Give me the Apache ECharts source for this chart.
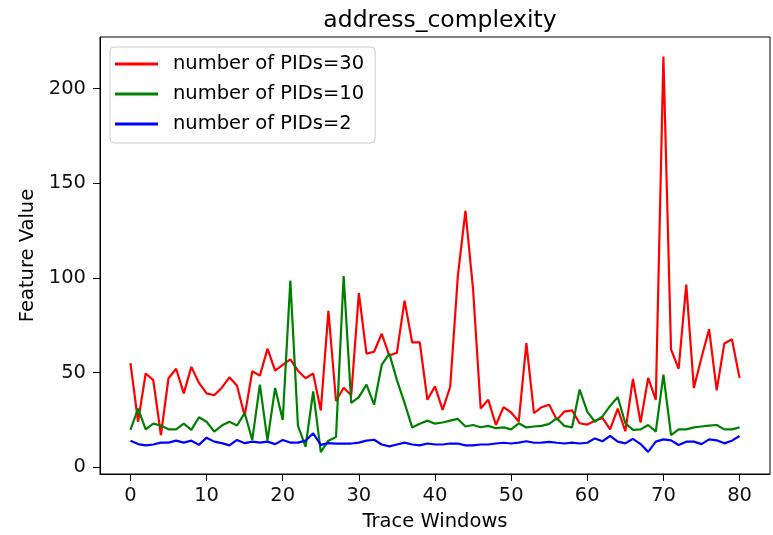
<!DOCTYPE html>
<html>
<head>
<meta charset="utf-8">
<script src="https://cdn.jsdelivr.net/npm/echarts@6/dist/echarts.min.js"></script>
<style>
html,body{margin:0;padding:0;background:#fff;}
#chart{width:773px;height:535px;}
</style>
</head>
<body>
<div id="chart"></div>
<script>
const titleText = "address_complexity";
const xName = "Trace Windows";
const yName = "Feature Value";
const xTicks = [0, 10, 20, 30, 40, 50, 60, 70, 80];
const yTicks = [0, 50, 100, 150, 200];
const seriesNames = ["number of PIDs=30", "number of PIDs=10", "number of PIDs=2"];

const pids30 = [55, 24, 49.5, 46, 17, 47, 52, 39, 53, 44.5,
  39, 38, 42, 47.5, 43, 27, 50.7, 48.4, 62.6, 51,
  54, 57, 51, 47, 49.5, 30, 82.6, 35, 42, 38,
  92, 60, 61, 70.5, 59, 60.5, 88, 66, 66, 35.6,
  42.7, 30.3, 42.5, 101, 135.5, 94, 31, 35.6, 22.3, 31.7,
  28.9, 24.1, 65.5, 28.5, 31.7, 33, 25, 29.4, 30, 23.2,
  22.5, 24.5, 26, 20, 31, 19, 46.6, 23.6, 47.2, 35.6,
  217, 62.2, 52, 96.5, 41.8, 57.8, 72.9, 40.6, 65.4, 67.6,
  47.2];

const pids10 = [19.7, 31, 20, 23, 22, 20, 20, 23, 19.7, 26.4,
  24, 18.8, 22, 24, 22, 28.6, 14.4, 43.6, 14, 41.9,
  25, 98.6, 22, 10.8, 40, 8, 14, 16, 101, 34,
  37, 43.6, 33, 54, 60, 46, 34, 21, 23, 24.6,
  23, 23.6, 24.6, 25.5, 21.5, 22.3, 21.1, 21.8, 20.6, 21,
  20, 23.2, 21, 21.5, 21.8, 22.9, 25.9, 21.8, 21, 41,
  29.4, 24, 26.8, 32.4, 37, 23.2, 19.7, 20, 22.3, 18.8,
  48.9, 17, 20, 20, 21, 21.5, 22, 22.3, 20, 20,
  21];

const pids2 = [14, 12.2, 11.5, 12, 13, 13, 14, 13, 14, 11.8,
  15.6, 13.5, 12.7, 11.5, 14.4, 12.7, 13.5, 13, 13.5, 12.2,
  14.4, 13, 13, 14, 17.9, 11.8, 12.7, 12.5, 12.5, 12.5,
  13, 14, 14.5, 12, 11, 12, 13, 12, 11.5, 12.5,
  12, 12, 12.5, 12.5, 11.5, 11.5, 12, 12, 12.5, 12.9,
  12.5, 13, 13.7, 12.9, 13, 13.4, 12.9, 12.5, 13, 12.5,
  12.9, 15.2, 13.7, 16.5, 13.5, 12.6, 15, 12.2, 8.1, 13.5,
  14.7, 14.2, 11.7, 13.5, 13.5, 12.2, 14.7, 14.2, 12.6, 14,
  16.5];

const colors = ["#ff0000", "#008000", "#0000ff"];
const FONT = "DejaVu Sans";
const FS = 19.5;

function pairs(arr) { return arr.map((v, i) => [i, v]); }

const chart = echarts.init(document.getElementById('chart'), null, {renderer: 'canvas'});
const option = {
  animation: false,
  backgroundColor: '#ffffff',
  textStyle: {fontFamily: FONT},
  title: {
    text: titleText,
    left: 435,
    textAlign: 'center',
    top: 4,
    textStyle: {fontFamily: FONT, fontSize: 23.5, fontWeight: 'normal', color: '#000'}
  },
  legend: {
    orient: 'vertical',
    left: 110,
    top: 47,
    padding: [7, 11, 9, 5],
    itemGap: 10,
    itemWidth: 43,
    itemHeight: 3,
    icon: 'rect',
    backgroundColor: 'rgba(255,255,255,0.8)',
    borderColor: '#cccccc',
    borderWidth: 1,
    borderRadius: 4,
    textStyle: {fontFamily: FONT, fontSize: FS, color: '#000', padding: [0, 0, 0, 10]},
    data: seriesNames
  },
  grid: {
    left: 100, right: 3, top: 37, bottom: 61,
    show: true, borderColor: '#000', borderWidth: 1,
    outerBoundsMode: 'none'
  },
  xAxis: {
    type: 'value',
    min: -4, max: 84,
    name: xName,
    nameLocation: 'middle',
    nameGap: 38,
    nameTextStyle: {fontFamily: FONT, fontSize: FS, color: '#000'},
    axisLine: {show: true, onZero: false, lineStyle: {color: '#000', width: 1}},
    axisTick: {show: true, length: 7, customValues: xTicks, lineStyle: {color: '#000'}},
    axisLabel: {customValues: xTicks, margin: 12, fontFamily: FONT, fontSize: FS, color: '#111'},
    splitLine: {show: false}
  },
  yAxis: {
    type: 'value',
    min: -3.6, max: 227.3,
    name: yName,
    nameLocation: 'middle',
    nameGap: 62,
    nameTextStyle: {fontFamily: FONT, fontSize: FS, color: '#000'},
    axisLine: {show: true, onZero: false, lineStyle: {color: '#000', width: 1}},
    axisTick: {show: true, length: 7, customValues: yTicks, lineStyle: {color: '#000'}},
    axisLabel: {customValues: yTicks, margin: 14, fontFamily: FONT, fontSize: FS, color: '#111'},
    splitLine: {show: false}
  },
  series: [
    {name: seriesNames[0], type: 'line', data: pairs(pids30), showSymbol: false, symbol: 'none',
     lineStyle: {color: colors[0], width: 2.2}, itemStyle: {color: colors[0]}},
    {name: seriesNames[1], type: 'line', data: pairs(pids10), showSymbol: false, symbol: 'none',
     lineStyle: {color: colors[1], width: 2.2}, itemStyle: {color: colors[1]}},
    {name: seriesNames[2], type: 'line', data: pairs(pids2), showSymbol: false, symbol: 'none',
     lineStyle: {color: colors[2], width: 2.2}, itemStyle: {color: colors[2]}}
  ]
};
chart.setOption(option);
</script>
</body>
</html>
